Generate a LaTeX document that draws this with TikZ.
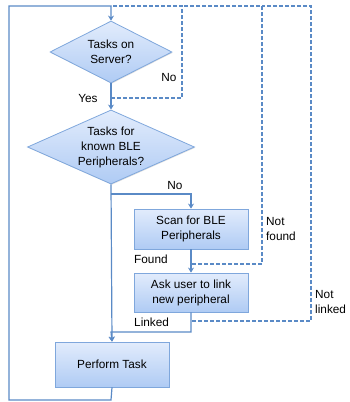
\documentclass[tikz,border=0pt]{standalone}
\usepackage{fontspec}
\setmainfont{Liberation Sans}
\usetikzlibrary{shapes.geometric,arrows.meta,shadows}
\definecolor{lineblue}{HTML}{5A8AC6}
\definecolor{edgeblue}{HTML}{7FA7DC}
\definecolor{filltop}{HTML}{E2ECFC}
\definecolor{fillbot}{HTML}{AFCBF4}
\tikzset{
  flow/.style={draw=lineblue, line width=1.2pt},
  flowarrow/.style={flow, -{Stealth[length=5pt,width=6pt]}},
  dashflow/.style={draw=lineblue, line width=1.3pt, dash pattern=on 4pt off 2pt},
  boxbase/.style={draw=edgeblue, line width=0.8pt, top color=filltop, bottom color=fillbot,
    align=center, font=\fontsize{11.8}{15}\selectfont, inner sep=0pt,
    drop shadow={shadow xshift=0.8pt, shadow yshift=-0.8pt, opacity=0.25}},
  decision/.style={boxbase, diamond, aspect=2},
  procbox/.style={boxbase, rectangle},
  lbl/.style={font=\fontsize{11.8}{15}\selectfont, inner sep=0pt, align=left}
}
\begin{document}
\begin{tikzpicture}[x=1pt,y=-1pt]
\useasboundingbox (0,0) rectangle (349,402);
% nodes
\node[decision, minimum width=122pt, minimum height=62pt] (d1) at (111,52) {Tasks on\\Server?};
\node[decision, minimum width=167pt, minimum height=62pt] (d2) at (111,147) {Tasks for\\known BLE\\Peripherals?};
\node[procbox, minimum width=114pt, minimum height=40pt] (scan) at (191,229) {Scan for BLE\\Peripherals};
\node[procbox, minimum width=114pt, minimum height=39pt] (ask) at (191,292.5) {Ask user to link\\new peripheral};
\node[procbox, minimum width=114pt, minimum height=45pt] (perf) at (112,364.5) {Perform Task};
% coordinates
\coordinate (top) at (111,6);
\coordinate (yesj) at (111,98);
\coordinate (noj) at (111,194);
\coordinate (linkj) at (111,332);
\coordinate (foundj) at (192,264);
\coordinate (nlj) at (192,321);
% dashed return loops
\draw[dashflow] (yesj) -- (182,98) -- (182,6) -- (top);
\draw[dashflow] (foundj) -- (262,264) -- (262,6) -- (182,6);
\draw[dashflow] (nlj) -- (311,321) -- (311,6) -- (262,6);
% solid flow
\draw[flowarrow] (d1.south) -- (d2.north);
\draw[flowarrow] (d2.south) -- (perf.north);
\draw[flowarrow] (noj) -| (scan.north);
\draw[flowarrow] (scan.south) -- (ask.north);
\draw[flowarrow] (ask.south) |- (linkj) -- (perf.north);
\draw[flowarrow] (perf.south) -- (111,400) -- (9,400) -- (9,6) -- (top) -- (d1.north);
% labels
\node[lbl] at (169,77) {No};
\node[lbl] at (88,98) {Yes};
\node[lbl] at (175,185) {No};
\node[lbl, anchor=west] at (134,259) {Found};
\node[lbl, anchor=west] at (134,322) {Linked};
\node[lbl, anchor=west] at (266,228.5) {Not\\found};
\node[lbl, anchor=west] at (315,301.5) {Not\\linked};
\end{tikzpicture}
\end{document}
